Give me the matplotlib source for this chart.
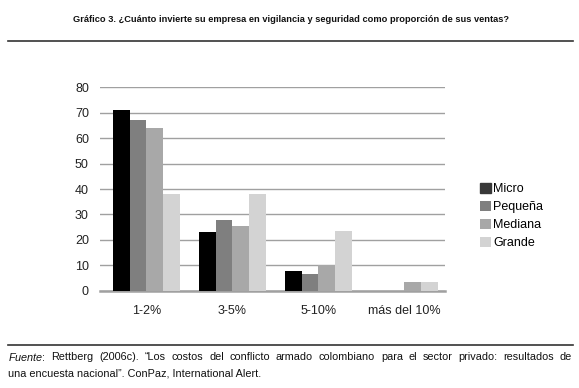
import numpy as np
import matplotlib
matplotlib.use("Agg")
import matplotlib.pyplot as plt

plt.rcParams['font.family'] = ['Liberation Sans', 'DejaVu Sans']
plt.rcParams['mathtext.fontset'] = 'custom'
plt.rcParams['mathtext.it'] = 'Liberation Sans:italic'
plt.rcParams['mathtext.rm'] = 'Liberation Sans'

# Datos del gráfico
categorias = ['1-2%', '3-5%', '5-10%', 'más del 10%']
series = ['Micro', 'Pequeña', 'Mediana', 'Grande']
micro = [71, 23, 7.6, 0]
pequena = [67, 28, 6.6, 0]
mediana = [64, 25.5, 10, 3.3]
grande = [38, 38, 23.6, 3.3]
colores = ['#000000', '#7f7f7f', '#a8a8a8', '#d3d3d3']

titulo = 'Gráfico 3. ¿Cuánto invierte su empresa en vigilancia y seguridad como proporción de sus ventas?'
fuente_1 = (r'$\it{Fuente}$: Rettberg (2006c). “Los costos del conflicto armado colombiano '
            'para el sector privado: resultados de')
fuente_2 = 'una encuesta nacional”. ConPaz, International Alert.'

fig = plt.figure(figsize=(5.79, 3.88), dpi=100)
ax = fig.add_axes([100 / 579, 1 - 290.7 / 388, 345 / 579, 203.4 / 388])

x = np.arange(len(categorias))
ancho = 0.194
valores = [micro, pequena, mediana, grande]
for i, (nombre, vals) in enumerate(zip(series, valores)):
    ax.bar(x - 1.5 * ancho + i * ancho, vals, ancho, color=colores[i], label=nombre, zorder=3)

ax.set_xlim(-0.541, 3.475)
ax.set_ylim(0, 80)
ax.set_yticks(range(0, 81, 10))
ax.yaxis.grid(True, color='#a0a0a0', linewidth=1.0, zorder=0)
for s in ['top', 'right', 'left']:
    ax.spines[s].set_visible(False)
ax.spines['bottom'].set_color('#a0a0a0')
ax.spines['bottom'].set_linewidth(1.8)
ax.tick_params(length=0, labelsize=9, colors='#222222')
ax.tick_params(axis='y', pad=8)
ax.tick_params(axis='x', pad=10)
ax.set_xticks(x)
ax.set_xticklabels(categorias)

leg = ax.legend(loc='center left', bbox_to_anchor=((480 - 100) / 345, (290.7 - 216) / 203.4),
                frameon=False, fontsize=9, handlelength=0.88, handleheight=0.88,
                handletextpad=0.2, labelspacing=0.45, borderpad=0, borderaxespad=0)
leg.legend_handles[0].set_color('#383838')

# Título y líneas
fig.text(291 / 579, 1 - 20 / 388, titulo, ha='center', va='center', fontsize=6.7,
         fontweight='bold', color='#111111')
fig.add_artist(plt.Line2D([8 / 579, 573 / 579], [1 - 41 / 388, 1 - 41 / 388], color='#333333', linewidth=1.2))
fig.add_artist(plt.Line2D([8 / 579, 573 / 579], [1 - 345 / 388, 1 - 345 / 388], color='#333333', linewidth=1.2))

# Fuente: primera línea justificada entre 8 y 572 px
renderer = fig.canvas.get_renderer()
palabras = fuente_1.split(' ')
textos = [fig.text(0, 1 - 357 / 388, p, ha='left', va='center', fontsize=7.85, color='#111111')
          for p in palabras]
anchos = [t.get_window_extent(renderer).width for t in textos]
hueco = (572 - 8 - sum(anchos)) / (len(palabras) - 1)
pos = 8
for t, w in zip(textos, anchos):
    t.set_x(pos / 579)
    pos += w + hueco
fig.text(8 / 579, 1 - 373 / 388, fuente_2, ha='left', va='center', fontsize=7.85, color='#111111')

fig.savefig('out.png', dpi=100)
